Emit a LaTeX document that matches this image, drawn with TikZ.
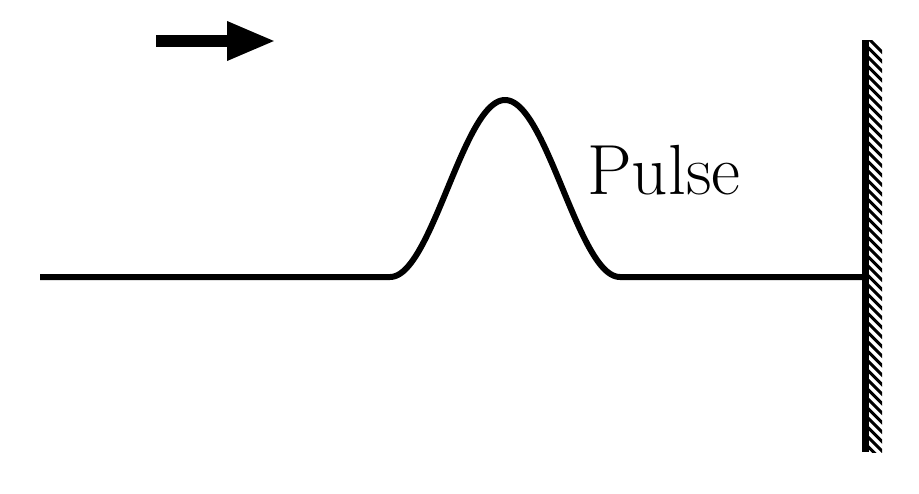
\documentclass[tikz,border=0pt]{standalone}
\usetikzlibrary{arrows.meta}
\begin{document}
\begin{tikzpicture}[x=0.5pt,y=-0.5pt,
  stringline/.style={line width=3pt, line join=round},
  wallline/.style={line width=3.5pt},
  hatchline/.style={line width=1.5pt},
  labeltext/.style={font=\fontsize{35.5}{42}\selectfont, inner sep=0pt, anchor=base west}]
\useasboundingbox (0,0) rectangle (919,493);
% direction arrow
\coordinate (a0) at (156,41);
\coordinate (a1) at (276,41);
\draw[line width=6pt, -{Triangle[length=24.5pt,width=18pt]}] (a0) -- (a1);
% string with pulse
\coordinate (s0) at (40,277);
\coordinate (p0) at (390,277);
\coordinate (p1) at (620,277);
\coordinate (wallpt) at (865,277);
\draw[stringline] (s0) -- (p0)
  -- plot[domain=-115:115, samples=120, smooth] ({505+\x}, {277-177*(1+cos(\x/115*180))/2})
  -- (wallpt);
% wall
\coordinate (w0) at (865,40);
\coordinate (w1) at (865,452);
\begin{scope}
  \clip (868,40) rectangle (882,452);
  \foreach \k in {0,...,46} {
    \draw[hatchline] (866,{36+9.5*\k}) -- (886,{56+9.5*\k});
  }
\end{scope}
\draw[wallline] (w0) -- (w1);
% label
\node[labeltext] (lbl) at (587,194) {Pulse};
\end{tikzpicture}
\end{document}
